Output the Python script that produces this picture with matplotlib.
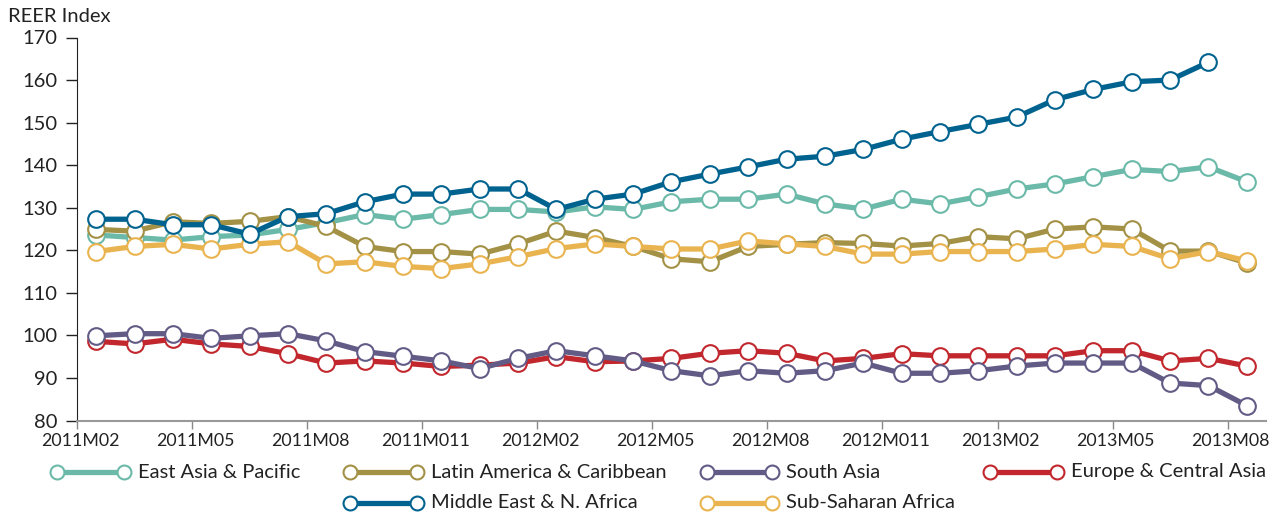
import matplotlib
matplotlib.use("Agg")
import matplotlib.pyplot as plt
from matplotlib.lines import Line2D
import numpy as np

plt.rcParams['font.family'] = ['Lato', 'DejaVu Sans']

months = ['2011M02', '2011M03', '2011M04', '2011M05', '2011M06', '2011M07', '2011M08', '2011M09',
          '2011M010', '2011M011', '2011M012', '2012M01', '2012M02', '2012M03', '2012M04', '2012M05',
          '2012M06', '2012M07', '2012M08', '2012M09', '2012M010', '2012M011', '2012M012', '2013M01',
          '2013M02', '2013M03', '2013M04', '2013M05', '2013M06', '2013M07', '2013M08']

east_asia = [123.6, 123.0, 122.4, 123.2, 123.6, 124.9, 126.5, 128.4, 127.3, 128.4, 129.6, 129.6,
             129.0, 130.2, 129.6, 131.4, 132.0, 132.0, 133.2, 130.9, 129.7, 132.0, 130.9, 132.6,
             134.4, 135.6, 137.3, 139.0, 138.5, 139.6, 136.1]
latin_am = [124.9, 124.5, 126.7, 126.3, 126.8, 127.9, 125.6, 120.9, 119.7, 119.7, 119.1, 121.5,
            124.5, 123.0, 120.9, 118.0, 117.3, 120.9, 121.4, 121.8, 121.6, 121.0, 121.6, 123.2,
            122.7, 125.0, 125.5, 125.0, 119.8, 119.8, 117.0]
europe = [98.6, 98.0, 99.1, 98.0, 97.4, 95.7, 93.5, 94.0, 93.5, 92.7, 93.0, 93.5,
          95.0, 93.8, 94.0, 94.6, 95.8, 96.4, 95.8, 94.0, 94.6, 95.7, 95.2, 95.2,
          95.2, 95.2, 96.4, 96.4, 94.0, 94.6, 92.8]
south_asia = [99.9, 100.4, 100.4, 99.3, 99.9, 100.4, 98.7, 96.2, 95.1, 94.0, 92.2, 94.6,
              96.4, 95.2, 94.0, 91.7, 90.5, 91.7, 91.1, 91.7, 93.5, 91.1, 91.1, 91.7,
              92.8, 93.5, 93.5, 93.5, 88.8, 88.2, 83.5]
sub_saharan = [119.7, 120.9, 121.4, 120.3, 121.4, 122.0, 116.8, 117.3, 116.2, 115.7, 116.8, 118.5,
               120.4, 121.5, 120.9, 120.3, 120.3, 122.2, 121.5, 120.9, 119.1, 119.1, 119.7, 119.7,
               119.7, 120.3, 121.4, 120.9, 118.0, 119.7, 117.5]
middle_east = [127.3, 127.3, 126.0, 126.0, 123.8, 127.9, 128.6, 131.4, 133.2, 133.2, 134.4, 134.4,
               129.6, 132.0, 133.2, 136.1, 137.9, 139.6, 141.4, 142.1, 143.7, 146.1, 147.9, 149.6,
               151.3, 155.4, 157.8, 159.6, 160.0, 164.2]

series = [
    ('East Asia & Pacific', east_asia, '#6bb9a8'),
    ('Latin America & Caribbean', latin_am, '#a39145'),
    ('Europe & Central Asia', europe, '#c1272d'),
    ('South Asia', south_asia, '#615b86'),
    ('Sub-Saharan Africa', sub_saharan, '#e9b44f'),
    ('Middle East & N. Africa', middle_east, '#00628f'),
]

fig = plt.figure(figsize=(12.7, 5.12), dpi=100)
ax = fig.add_axes([77 / 1270, 1 - 420.5 / 512, (1266 - 77) / 1270, 383 / 512])

for name, vals, col in series:
    ax.plot(np.arange(len(vals)), vals, color=col, lw=3.8, marker='o', ms=12,
            mfc='white', mec=col, mew=1.5, solid_joinstyle='round')

ax.set_xlim(-0.5, len(months) - 0.5)
ax.set_ylim(80, 170)
ax.set_yticks(range(80, 171, 10))
ax.tick_params(axis='y', labelsize=14.5, length=8, width=1, color='#222222', pad=6, labelcolor='#222222')

idx = np.arange(0, len(months), 3)
ax.set_xticks(idx - 0.5, minor=True)
ax.set_xticks(idx - 0.42)
ax.set_xticklabels([months[i] for i in idx])
ax.tick_params(axis='x', which='major', length=0, labelsize=12.8, pad=9, labelcolor='#222222')
ax.tick_params(axis='x', which='minor', length=6, width=1, color='#888888')

for s in ['top', 'right']:
    ax.spines[s].set_visible(False)
ax.spines['left'].set_color('#222222')
ax.spines['bottom'].set_color('#999999')
ax.spines['bottom'].set_linewidth(1.5)

fig.text(8 / 1270, 1 - 17 / 512, 'REER Index', fontsize=14.5, va='center', color='#222222')

# legend entries laid out like the original (two rows)
legend_pos = {
    'East Asia & Pacific': (57, 124, 472),
    'Latin America & Caribbean': (350, 417, 472),
    'South Asia': (707, 772, 472),
    'Europe & Central Asia': (990, 1057, 472),
    'Middle East & N. Africa': (350, 417, 503),
    'Sub-Saharan Africa': (707, 772, 503),
}
for name, vals, col in series:
    x0, x1, y = legend_pos[name]
    fy = 1 - y / 512
    fig.add_artist(Line2D([x0 / 1270, x1 / 1270], [fy, fy], transform=fig.transFigure,
                          color=col, lw=3.8, marker='o', ms=10, mfc='white', mec=col, mew=1.5))
    fig.text((x1 + 14) / 1270, fy, name, fontsize=14.5, va='center', color='#222222')

fig.savefig('out.png', dpi=100)
